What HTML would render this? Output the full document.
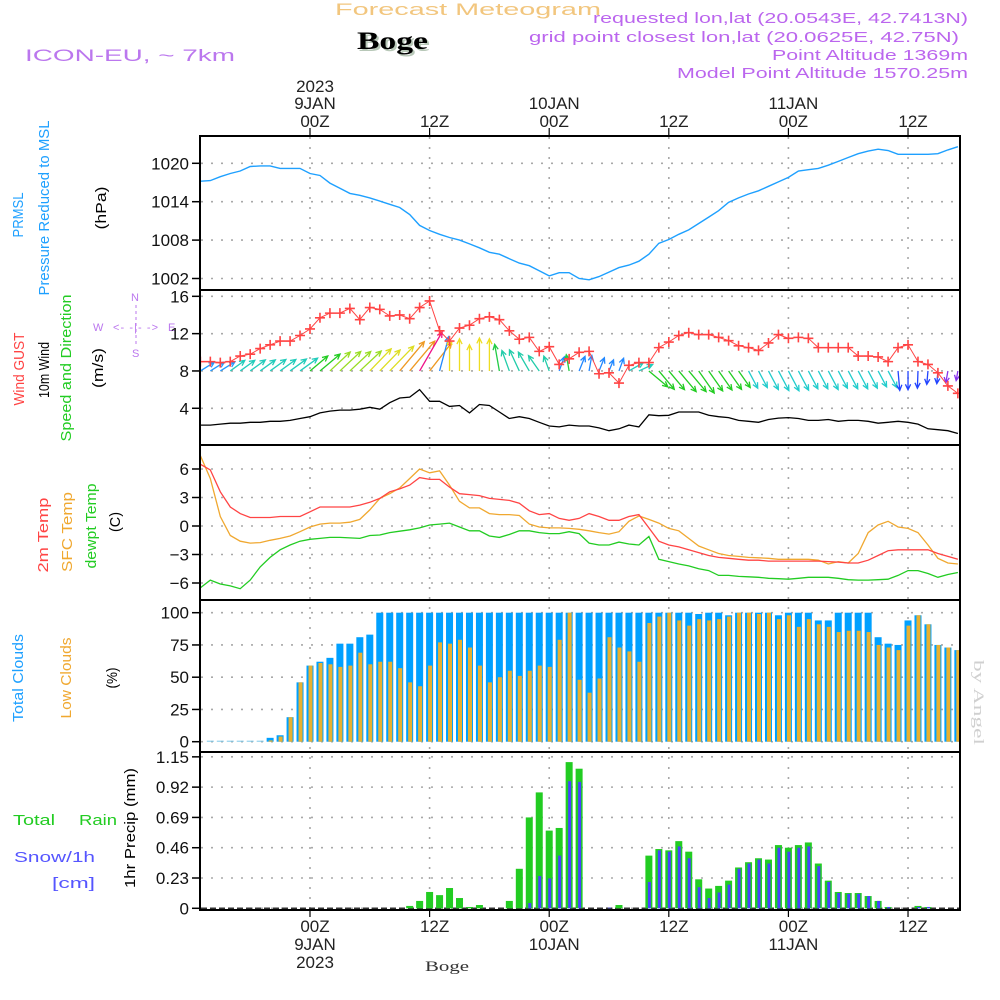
<!DOCTYPE html>
<html><head><meta charset="utf-8"><title>Forecast Meteogram - Boge</title>
<style>
html,body{margin:0;padding:0;background:#fff;}
svg{display:block;font-family:"Liberation Sans",sans-serif;}
</style></head>
<body>
<svg id="chart" width="1000" height="1000" viewBox="0 0 1000 1000" xmlns="http://www.w3.org/2000/svg">
  <defs>
    <clipPath id="cp1"><rect x="201" y="137" width="758" height="152"/></clipPath>
    <clipPath id="cp2"><rect x="201" y="291" width="758" height="153"/></clipPath>
    <clipPath id="cp3"><rect x="201" y="446" width="758" height="153"/></clipPath>
    <clipPath id="cp4"><rect x="201" y="601" width="758" height="150"/></clipPath>
    <clipPath id="cp5"><rect x="201" y="753" width="758" height="156"/></clipPath>
  </defs>
  <rect width="1000" height="1000" fill="#fff"/>

  <!-- header -->
  <text x="335" y="15" font-size="17" fill="#f2c67e" textLength="266" lengthAdjust="spacingAndGlyphs">Forecast Meteogram</text>
  <text x="359" y="51" font-size="25" font-weight="bold" font-family="'Liberation Serif',serif" fill="#b8c8b8" textLength="71" lengthAdjust="spacingAndGlyphs">Boge</text>
  <text x="357" y="49" font-size="25" font-weight="bold" font-family="'Liberation Serif',serif" fill="#000" textLength="71" lengthAdjust="spacingAndGlyphs">Boge</text>
  <text x="25" y="61" font-size="17" fill="#bb77ee" textLength="210" lengthAdjust="spacingAndGlyphs">ICON-EU, ~ 7km</text>
  <text x="593" y="23" font-size="15" fill="#bb66ee" textLength="375" lengthAdjust="spacingAndGlyphs">requested lon,lat (20.0543E, 42.7413N)</text>
  <text x="529" y="42" font-size="15" fill="#bb66ee" textLength="430" lengthAdjust="spacingAndGlyphs">grid point closest lon,lat (20.0625E, 42.75N)</text>
  <text x="772" y="60" font-size="15" fill="#bb66ee" textLength="196" lengthAdjust="spacingAndGlyphs">Point Altitude 1369m</text>
  <text x="677" y="78" font-size="15" fill="#bb66ee" textLength="291" lengthAdjust="spacingAndGlyphs">Model Point Altitude 1570.25m</text>

  <!-- left labels -->
  <g font-size="15">
    <text transform="translate(23,215) rotate(-90)" text-anchor="middle" fill="#1ea0ff" textLength="45" lengthAdjust="spacingAndGlyphs">PRMSL</text>
    <text transform="translate(49,208) rotate(-90)" text-anchor="middle" fill="#1ea0ff" textLength="175" lengthAdjust="spacingAndGlyphs">Pressure Reduced to MSL</text>
    <text transform="translate(106,208) rotate(-90)" text-anchor="middle" fill="#000" textLength="43" lengthAdjust="spacingAndGlyphs">(hPa)</text>
    <text transform="translate(24,369) rotate(-90)" text-anchor="middle" fill="#ff4444" textLength="73" lengthAdjust="spacingAndGlyphs">Wind GUST</text>
    <text transform="translate(49,370) rotate(-90)" text-anchor="middle" fill="#000" textLength="56" lengthAdjust="spacingAndGlyphs">10m Wind</text>
    <text transform="translate(71,368) rotate(-90)" text-anchor="middle" fill="#22cc22" textLength="147" lengthAdjust="spacingAndGlyphs">Speed and Direction</text>
    <text transform="translate(103,368) rotate(-90)" text-anchor="middle" fill="#000" textLength="40" lengthAdjust="spacingAndGlyphs">(m/s)</text>
    <text transform="translate(48,535) rotate(-90)" text-anchor="middle" fill="#ff4444" textLength="75" lengthAdjust="spacingAndGlyphs">2m Temp</text>
    <text transform="translate(72,532) rotate(-90)" text-anchor="middle" fill="#f0a830" textLength="80" lengthAdjust="spacingAndGlyphs">SFC Temp</text>
    <text transform="translate(96,526) rotate(-90)" text-anchor="middle" fill="#22cc22" textLength="85" lengthAdjust="spacingAndGlyphs">dewpt Temp</text>
    <text transform="translate(120,522) rotate(-90)" text-anchor="middle" fill="#000" textLength="20" lengthAdjust="spacingAndGlyphs">(C)</text>
    <text transform="translate(23,678) rotate(-90)" text-anchor="middle" fill="#1ea0ff" textLength="88" lengthAdjust="spacingAndGlyphs">Total Clouds</text>
    <text transform="translate(71,678) rotate(-90)" text-anchor="middle" fill="#f0a830" textLength="81" lengthAdjust="spacingAndGlyphs">Low Clouds</text>
    <text transform="translate(117,678) rotate(-90)" text-anchor="middle" fill="#000" textLength="21" lengthAdjust="spacingAndGlyphs">(%)</text>
    <text transform="translate(135,828) rotate(-90)" text-anchor="middle" fill="#000" textLength="120" lengthAdjust="spacingAndGlyphs">1hr Precip (mm)</text>
  </g>
  <text x="13" y="825" font-size="15" fill="#22cc22" textLength="42" lengthAdjust="spacingAndGlyphs">Total</text>
  <text x="79" y="825" font-size="15" fill="#22cc22" textLength="38" lengthAdjust="spacingAndGlyphs">Rain</text>
  <text x="14" y="862" font-size="15" fill="#5555ff" textLength="81" lengthAdjust="spacingAndGlyphs">Snow/1h</text>
  <text x="52" y="888" font-size="15" fill="#5555ff" textLength="43" lengthAdjust="spacingAndGlyphs">[cm]</text>

  <!-- compass -->
  <g fill="#bb77ee" font-size="11">
    <text x="131" y="301">N</text>
    <text x="132" y="357">S</text>
    <text x="93" y="331">W</text>
    <text x="168" y="331">E</text>
    <text x="113" y="331" textLength="45" lengthAdjust="spacing">&lt;- -|- -&gt;</text>
    <line x1="136" y1="305" x2="136" y2="345" stroke="#bb77ee" stroke-dasharray="3,3"/>
  </g>

  <!-- bottom labels -->
  <text x="425" y="971" font-size="15" font-family="'Liberation Serif',serif" fill="#333" textLength="44" lengthAdjust="spacingAndGlyphs">Boge</text>
  <text transform="translate(974,660) rotate(90)" font-size="15" font-family="'Liberation Serif',serif" fill="#d0d0d0" textLength="85" lengthAdjust="spacingAndGlyphs">by Angel</text>

  <g id="gridLayer"></g>
  <g id="dataLayer"></g>
  <g id="axisLayer"></g>
</svg>
<script>
// ---------- data ----------
const lineHourStart = -11;
const pressureValues = [1017.2,1017.3,1017.9,1018.4,1018.8,1019.5,1019.6,1019.6,1019.2,1019.2,1019.2,
 1018.4,1018.1,1016.9,1016.1,1015.3,1015.0,1014.6,1014.1,1013.6,1013.1,1012.0,1010.3,
 1009.5,1008.9,1008.4,1008.0,1007.4,1006.8,1006.1,1005.8,1005.1,1004.4,1004.0,1003.2,
 1002.4,1002.9,1002.9,1002.0,1001.8,1002.3,1003.0,1003.7,1004.1,1004.7,1005.8,1007.5,
 1008.1,1008.9,1009.6,1010.6,1011.6,1012.6,1013.9,1014.6,1015.2,1015.7,1016.4,1017.1,
 1017.8,1018.8,1019.0,1019.2,1019.7,1020.3,1020.9,1021.5,1021.9,1022.2,1022.0,1021.4,
 1021.4,1021.4,1021.4,1021.5,1022.1,1022.6];
const gustValues = [9.0,9.0,8.9,9.0,9.6,9.8,10.4,10.8,11.2,11.2,11.8,
 12.5,13.7,14.2,14.2,14.7,13.5,14.8,14.6,13.9,14.0,13.6,14.8,
 15.5,12.3,11.2,12.6,12.9,13.6,13.8,13.5,12.3,11.4,11.6,10.1,
 10.6,8.7,9.3,10.0,10.1,7.7,7.8,6.7,8.6,8.9,8.9,10.5,
 11.1,11.8,12.1,11.9,11.9,11.6,11.25,10.7,10.5,10.2,11.0,11.9,
 11.5,11.6,11.5,10.5,10.5,10.5,10.5,9.6,9.6,9.5,9.0,10.5,
 10.8,9.0,8.7,7.8,6.4,5.6];
const windSpeedValues = [2.2,2.2,2.3,2.4,2.4,2.5,2.5,2.6,2.6,2.7,2.9,
 3.1,3.5,3.7,3.8,3.8,3.9,4.1,3.9,4.6,5.1,5.2,6.0,
 4.75,4.75,4.2,4.3,3.5,4.4,4.3,3.6,2.9,3.1,2.9,2.5,
 2.1,2.0,2.2,2.1,2.1,1.9,1.6,1.8,2.2,2.0,3.3,3.2,
 3.25,3.6,3.6,3.6,3.25,3.1,3.0,2.7,2.6,2.5,2.8,2.95,
 3.0,2.9,2.7,2.7,2.8,2.6,2.7,2.7,2.6,2.4,2.5,2.6,
 2.5,2.3,1.8,1.7,1.6,1.3];
// arrow heading (degrees, 0 = toward east, 90 = toward north)
const windHeadingValues = [32,32,32,36,36,36,36,36,36,36,36,
 40,40,43,43,43,43,46,46,46,50,50,60,
 52,75,90,90,90,90,90,100,110,115,120,125,
 110,70,100,68,80,68,68,70,30,25,-40,-50,
 -50,-50,-50,-55,-55,-55,-55,-55,-62,-62,-62,-62,
 -62,-62,-62,-62,-62,-62,-62,-62,-62,-62,-62,-85,
 -90,-92,-95,-95,-100,-100];
const temp2mValues = [6.5,5.9,3.6,2.0,1.3,0.9,0.9,0.9,1.0,1.0,1.0,
 1.5,2.0,2.0,2.0,2.0,2.2,2.5,2.9,3.6,3.9,4.3,5.1,
 4.9,4.9,4.1,3.4,3.3,3.2,2.9,2.8,2.7,2.4,1.6,1.2,
 1.3,0.8,0.6,0.8,1.3,1.0,0.6,0.6,1.0,1.2,-0.2,-1.6,
 -2.0,-2.2,-2.5,-2.8,-3.1,-3.3,-3.4,-3.5,-3.6,-3.6,-3.7,-3.7,
 -3.7,-3.7,-3.7,-3.7,-3.75,-3.8,-3.9,-3.9,-3.6,-3.1,-2.6,-2.5,
 -2.5,-2.5,-2.5,-2.9,-3.2,-3.5];
const tempSfcValues = [7.4,5.0,1.0,-1.0,-1.6,-1.8,-1.75,-1.5,-1.3,-1.05,-0.6,
 -0.1,0.2,0.3,0.3,0.4,0.7,1.7,2.9,3.4,4.0,5.0,6.0,
 5.6,5.8,4.3,2.6,1.9,1.9,1.3,1.2,1.2,1.1,0.2,-0.1,
 -0.2,-0.2,-0.25,-0.35,-0.5,-0.7,-0.85,-0.6,0.5,1.05,0.7,0.3,
 -0.25,-0.5,-1.3,-2.1,-2.5,-2.9,-3.1,-3.2,-3.3,-3.35,-3.4,-3.5,
 -3.5,-3.5,-3.5,-3.6,-4.0,-3.75,-3.9,-2.9,-0.7,0.1,0.5,-0.1,
 -0.25,-0.7,-2.0,-3.4,-3.9,-4.0];
const dewptValues = [-6.5,-5.7,-6.1,-6.3,-6.6,-5.7,-4.3,-3.3,-2.5,-2.0,-1.6,
 -1.4,-1.3,-1.2,-1.2,-1.25,-1.3,-1.0,-0.95,-0.7,-0.55,-0.4,-0.2,
 0.1,0.2,0.3,-0.1,-0.5,-0.5,-1.05,-1.2,-0.9,-0.5,-0.5,-0.7,
 -0.8,-0.8,-0.6,-0.8,-1.8,-2.0,-2.0,-1.7,-1.9,-2.0,-1.1,-3.5,
 -3.75,-4.0,-4.2,-4.5,-4.7,-5.2,-5.2,-5.3,-5.35,-5.4,-5.5,-5.55,
 -5.6,-5.5,-5.4,-5.4,-5.4,-5.5,-5.65,-5.7,-5.7,-5.65,-5.6,-5.2,
 -4.7,-4.7,-5.0,-5.4,-5.1,-4.9];
const cloudHourStart = -10;
const totalCloudValues = [0,0,0,0,0,0,3,5,19,46,
 59,62,65,76,76,81,83,100,100,100,100,100,100,100,100,100,100,100,100,100,100,100,100,100,100,100,100,100,100,
 100,100,100,100,100,100,100,100,100,100,99,100,100,98,100,100,100,100,98,100,100,100,94,94,100,100,100,100,81,76,75,94,98,91,75,73,71];
const lowCloudValues = [0,0,0,0,0,0,1,4,19,46,
 59,61,60,58,59,69,60,62,62,57,46,43,59,77,76,79,73,59,46,50,55,51,55,59,58,79,100,48,38,
 49,81,73,70,62,92,97,100,94,90,95,94,95,97,100,100,99,100,95,98,89,95,91,89,85,86,86,85,75,73,71,90,98,91,75,73,71];
const precipHours = [10,11,12,13,14,15,16,17,20,21,22,23,24,25,26,27,30,31,34,35,36,37,38,39,40,41,42,43,44,45,46,47,48,49,50,51,52,53,54,55,56,57,58,61,62];
const rainValues = [0.018,0.056,0.124,0.10,0.154,0.078,0.01,0.025,0.056,0.30,0.69,0.88,0.59,0.61,1.11,1.06,0,0.025,0.40,0.45,0.44,0.51,0.43,0.22,0.15,0.17,0.21,0.31,0.35,0.38,0.37,0.48,0.46,0.48,0.50,0.34,0.21,0.124,0.116,0.116,0.093,0.056,0.01,0.018,0.01];
const snowValues = [0,0,0,0,0,0,0,0,0,0,0.04,0.245,0.227,0.40,0.965,0.96,0.005,0,0.2,0.44,0.43,0.47,0.38,0.16,0.078,0.12,0.18,0.30,0.34,0.37,0.34,0.46,0.43,0.46,0.47,0.32,0.20,0.116,0.11,0.11,0.093,0.056,0.01,0.01,0.01];
const pressureTicks = [1020,1014,1008,1002];
const windTicks = [16,12,8,4];
const tempTicks = [6,3,0,-3,-6];
const cloudTicks = [100,75,50,25,0];
const precipTicks = [1.15,0.92,0.69,0.46,0.23,0];
const timeTickHours = [0,12,24,36,48,60];
const timeTickLabels = ["00Z","12Z","00Z","12Z","00Z","12Z"];
const dayLabels = [["2023","9JAN"],null,["10JAN"],null,["11JAN"],null];

// ---------- axis functions ----------
const X = h => 310 + 9.967*h;
const pressY = p => 163.3 + (1020-p)*6.4;
const windY = v => 445.6 - 9.33*v;
const tempY = t => 526 - 9.5*t;
const cloudY = c => 741.7 - 1.29*c;
const precY = m => 908.3 - 131.7*m;

const NS = "http://www.w3.org/2000/svg";
function mk(tag, attrs, parent){
  const e = document.createElementNS(NS, tag);
  for (const k in attrs) e.setAttribute(k, attrs[k]);
  parent.appendChild(e);
  return e;
}
const grid = document.getElementById('gridLayer');
const data = document.getElementById('dataLayer');
const axis = document.getElementById('axisLayer');

// ---------- gridlines ----------
const panels = [
  {top:136,bot:290,ticks:pressureTicks,f:pressY,fmt:v=>String(v),name:'pressure'},
  {top:290,bot:445,ticks:windTicks,f:windY,fmt:v=>String(v),name:'wind'},
  {top:445,bot:600,ticks:tempTicks,f:tempY,fmt:v=>(v<0?'\u2212'+(-v):String(v)),name:'temp'},
  {top:600,bot:752,ticks:cloudTicks,f:cloudY,fmt:v=>String(v),name:'clouds'},
  {top:752,bot:910,ticks:precipTicks,f:precY,fmt:v=>(v===0?'0':v.toFixed(2)),name:'precip'}
];
panels.forEach(p=>{
  p.ticks.forEach(t=>{
    const y = p.f(t);
    const g = mk('line',{x1:201,x2:959,y1:y,y2:y,stroke:'#a8a8a8','stroke-width':1.6,'stroke-dasharray':'2,8'},grid);
    
    
    const tk = mk('line',{x1:192,x2:200,y1:y,y2:y,stroke:'#000','stroke-width':1.5},axis);
    
    
    const lb = mk('text',{x:189,y:y+6,'text-anchor':'end','font-size':17,fill:'#111'},axis);
    
    
    lb.textContent = p.fmt(t);
  });
});
timeTickHours.forEach((h,i)=>{
  const x = X(h);
  const g = mk('line',{x1:x,x2:x,y1:137,y2:909,stroke:'#a8a8a8','stroke-width':1.6,'stroke-dasharray':'2,8'},grid);
  
  
  const t1 = mk('line',{x1:x,x2:x,y1:128,y2:136,stroke:'#000','stroke-width':1.2},axis);
  
  
  const t2 = mk('line',{x1:x,x2:x,y1:910,y2:917,stroke:'#000','stroke-width':1.2},axis);
  
  
  const cx = x + 5;
  const a = mk('text',{x:cx,y:127,'text-anchor':'middle','font-size':17,fill:'#222'},axis);
  
  
  a.textContent = timeTickLabels[i];
  const b = mk('text',{x:cx,y:932,'text-anchor':'middle','font-size':17,fill:'#222'},axis);
  
  
  b.textContent = timeTickLabels[i];
  const d = dayLabels[i];
  if (d){
    const day = d[d.length-1];
    const td = mk('text',{x:cx,y:109,'text-anchor':'middle','font-size':17,fill:'#222'},axis);
    
    
    td.textContent = day;
    const bd = mk('text',{x:cx,y:950,'text-anchor':'middle','font-size':17,fill:'#222'},axis);
    
    
    bd.textContent = day;
    if (d.length>1){
      const ty = mk('text',{x:cx,y:92,'text-anchor':'middle','font-size':17,fill:'#222'},axis);
      
      
      ty.textContent = d[0];
      const by = mk('text',{x:cx,y:968,'text-anchor':'middle','font-size':17,fill:'#222'},axis);
      
      
      by.textContent = d[0];
    }
  }
});

// ---------- series helpers ----------
function linePath(vals, f, start){
  return vals.map((v,i)=>(i?'L':'M')+X(start+i).toFixed(1)+','+f(v).toFixed(1)).join(' ');
}
function group(clip, name){
  const g = mk('g',{'clip-path':'url(#'+clip+')'},data);
  
  
  return g;
}

// pressure
const gP = group('cp1','pressure-panel');
const pl = mk('path',{d:linePath(pressureValues,pressY,lineHourStart),fill:'none',stroke:'#1ea0ff','stroke-width':1.4},gP);



// wind
const gW = group('cp2','wind-panel');
function arrowColor(a){
  if (a<=-97) return '#8833ee';
  if (a<=-80) return '#2244ff';
  if (a<=-58) return '#22cccc';
  if (a<=-30) return '#22cc22';
  if (a<=30) return '#22ccbb';
  if (a<=34) return '#2299ff';
  if (a<=38) return '#22ccbb';
  if (a<=41) return '#22cc22';
  if (a<=44) return '#99dd22';
  if (a<=48) return '#dddd22';
  if (a<=54) return '#ee9922';
  if (a<=62) return '#ee1188';
  if (a<=85) return '#2288ff';
  if (a<=95) return '#eedd22';
  if (a<=105) return '#22cc44';
  return '#22ccaa';
}
windHeadingValues.forEach((a,i)=>{
  const h = lineHourStart+i;
  const sp = windSpeedValues[i];
  const L = 7.5*sp;
  const r = a*Math.PI/180;
  const x0 = X(h), y0 = windY(8);
  const x1 = x0 + L*Math.cos(r), y1 = y0 - L*Math.sin(r);
  const c = arrowColor(a);
  const hl = 6, s = 0.45;
  const hx1 = x1 - hl*Math.cos(r - s), hy1 = y1 + hl*Math.sin(r - s);
  const hx2 = x1 - hl*Math.cos(r + s), hy2 = y1 + hl*Math.sin(r + s);
  const ar = mk('path',{d:`M${x0},${y0} L${x1},${y1} M${hx1},${hy1} L${x1},${y1} L${hx2},${hy2}`,fill:'none',stroke:c,'stroke-width':1.3},gW);
  
  
});
const gl = mk('path',{d:linePath(gustValues,windY,lineHourStart),fill:'none',stroke:'#ff4444','stroke-width':1},gW);


gustValues.forEach((v,i)=>{
  const x = X(lineHourStart+i), y = windY(v);
  const m = mk('path',{d:`M${x-5},${y} L${x+5},${y} M${x},${y-5} L${x},${y+5}`,stroke:'#ff4444','stroke-width':1.6},gW);
  
  
});
const wl = mk('path',{d:linePath(windSpeedValues,windY,lineHourStart),fill:'none',stroke:'#000','stroke-width':1.3},gW);



// temperature
const gT = group('cp3','temperature-panel');
const ts = mk('path',{d:linePath(tempSfcValues,tempY,lineHourStart),fill:'none',stroke:'#f0a830','stroke-width':1.3},gT);


const t2 = mk('path',{d:linePath(temp2mValues,tempY,lineHourStart),fill:'none',stroke:'#ff4444','stroke-width':1.3},gT);


const td = mk('path',{d:linePath(dewptValues,tempY,lineHourStart),fill:'none',stroke:'#22cc22','stroke-width':1.3},gT);



// clouds
const gC = group('cp4','clouds-panel');
totalCloudValues.forEach((v,i)=>{
  const x = X(cloudHourStart+i);
  const y = cloudY(v), y0 = cloudY(0);
  const b = mk('rect',{x:x-3.5,y:Math.min(y,y0-1),width:7,height:Math.max(y0-y,1),fill:v>0?'#00a0ff':'#7cc8e8'},gC);
  
  
  const lv = lowCloudValues[i];
  if (lv>0){
    const ly = cloudY(lv);
    const lb = mk('rect',{x:x-1.5,y:ly,width:4,height:y0-ly,fill:'#e8b030'},gC);
    
    
  }
});

// precip
const gR = group('cp5','precip-panel');
const bl = mk('line',{x1:201,x2:959,y1:precY(0),y2:precY(0),stroke:'#333','stroke-width':1.5,'stroke-dasharray':'6,3'},gR);


precipHours.forEach((h,i)=>{
  const x = X(h), y0 = precY(0);
  const r = rainValues[i];
  if (r>0){
    const y = precY(r);
    const b = mk('rect',{x:x-3.5,y:y,width:7,height:y0-y,fill:'#22cc22'},gR);
    
    
  }
  const s = snowValues[i];
  if (s>0){
    const y = precY(s);
    const b = mk('rect',{x:x-1,y:y,width:3,height:y0-y,fill:'#4444ff'},gR);
    
    
  }
});

// frame and separators
const fr = mk('rect',{x:200,y:136,width:760,height:774,fill:'none',stroke:'#000','stroke-width':2},axis);


[290,445,600,752].forEach(y=>{
  const l = mk('line',{x1:200,x2:960,y1:y,y2:y,stroke:'#000','stroke-width':2},axis);
  
  
});
</script>
</body></html>
